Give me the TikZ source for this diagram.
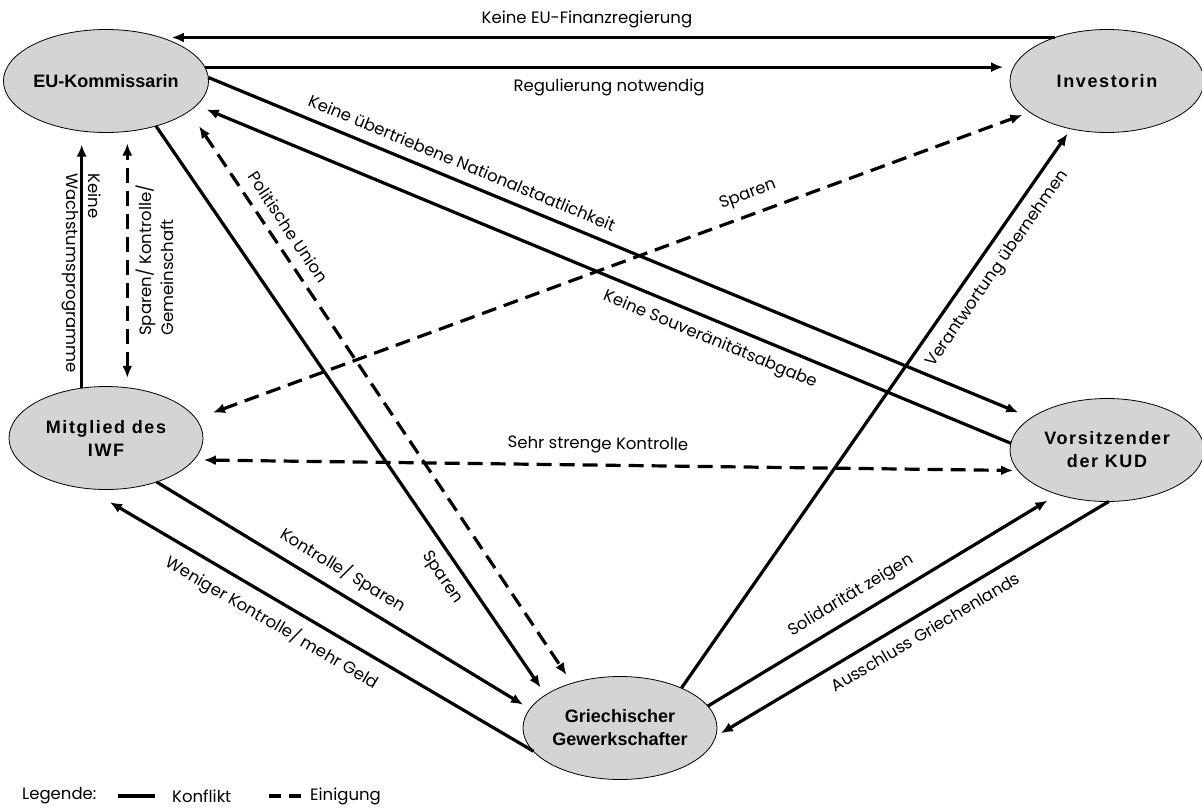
\documentclass[tikz,border=0pt]{standalone}
\usepackage{fontspec}
\setmainfont{Liberation Sans}
\newfontfamily\labelfont{Poppins}
\newfontfamily\actorfont[LetterSpace=9]{Liberation Sans}
\usepackage{tikz}
\usetikzlibrary{arrows.meta}
\usetikzlibrary{shapes.geometric}
\definecolor{actorgray}{RGB}{212,212,214}

\begin{document}
\begin{tikzpicture}[x = 1pt, y = -1pt, > = {Latex[length = 12pt, width = 10pt]}]
		\tikzset{vertex/.style={shape = ellipse, draw, line width = 0.8pt, fill = actorgray,
				minimum width = 194pt, minimum height = 103pt, inner sep = 0pt, outer sep = 0pt,
				align = center, font = \bfseries\fontsize{18}{23}\selectfont}}
		\tikzset{conflict/.style={->, line width = 3.2pt}}
		\tikzset{accord/.style={<->, line width = 3.2pt, dash pattern = on 15pt off 8pt}}
		\tikzset{lbl/.style={font = \labelfont\fontsize{16.5}{22}\selectfont, inner sep = 10pt}}
		\useasboundingbox (0, 0) rectangle (1202, 811);
		%vertices
		\node[vertex] (eu) at (106, 81) {EU-Kommissarin};
		\node[vertex] (inv) at (1107, 81) {\actorfont\bfseries Investorin};
		\node[vertex] (iwf) at (106, 438) {\actorfont\bfseries Mitglied des\\\actorfont\bfseries IWF};
		\node[vertex] (kud) at (1107, 450) {\actorfont\bfseries Vorsitzender\\\actorfont\bfseries der KUD};
		\node[vertex] (gew) at (620, 728) {Griechischer\\Gewerkschafter};
		%edges
		\draw[conflict] (inv.140) -- (eu.31 |- inv.140)
			node[lbl, pos = 0.53, above, inner sep = 8pt] {Keine EU-Finanzregierung};
		\draw[conflict, shorten > = 10pt] (eu.8) -- (inv.172 |- eu.8)
			node[lbl, midway, below] {Regulierung notwendig};
		\draw[conflict, shorten > = 14pt] (eu.2) -- (kud.157)
			node[lbl, sloped, pos = 0.3, above] {Keine übertriebene Nationalstaatlichkeit};
		\draw[conflict, shorten > = 11pt] (kud.176) -- (eu.345)
			node[lbl, sloped, pos = 0.36, below] {Keine Souveränitätsabgabe};
		\draw[conflict, shorten > = 9pt] (eu.318) -- (gew.156)
			node[lbl, sloped, pos = 0.775, below] {Sparen};
		\draw[accord, shorten < = 18pt, shorten > = 10pt] (eu.340) -- (gew.137)
			node[lbl, sloped, pos = 0.22, above] {Politische Union};
		\draw[conflict, shorten > = 12pt] (iwf.116) -- (iwf.116 |- eu.south)
			node[lbl, pos = 0.45, rotate = -90, align = left, inner sep = 0pt] {Keine\\Wachstumsprogramme};
		\draw[accord, shorten < = 10pt, shorten > = 11pt] (iwf.67) -- (iwf.67 |- eu.south)
			node[lbl, midway, rotate = 90, anchor = north, align = left, inner sep = 7pt] {Sparen/ Kontrolle/\\Gemeinschaft};
		\draw[accord, shorten < = 18pt, shorten > = 8pt] (iwf.12) -- (inv.202)
			node[lbl, sloped, pos = 0.67, above] {Sparen};
		\draw[accord, shorten < = 10pt, shorten > = 5pt] (iwf.346) -- (kud.193)
			node[lbl, sloped, pos = 0.49, above] {Sehr strenge Kontrolle};
		\draw[conflict, shorten > = 8pt] (iwf.319) -- (gew.168)
			node[lbl, sloped, pos = 0.47, above] {Kontrolle/ Sparen};
		\draw[conflict, shorten > = 27pt] (gew.195) -- (iwf.249)
			node[lbl, sloped, pos = 0.56, below] {Weniger Kontrolle/ mehr Geld};
		\draw[conflict, shorten > = 6pt] (gew.33) -- (inv.233)
			node[lbl, sloped, pos = 0.77, below] {Verantwortung übernehmen};
		\draw[conflict, shorten > = 12pt] (gew.14) -- (kud.222)
			node[lbl, sloped, pos = 0.44, above] {Solidarität zeigen};
		\draw[conflict, shorten > = 6pt] (kud.272) -- (gew.355)
			node[lbl, sloped, pos = 0.49, below] {Ausschluss Griechenlands};
		%legend
		\node[lbl, anchor = west, inner sep = 0pt] (legend) at (22, 796) {Legende:};
		\coordinate (k1) at (118, 796);
		\coordinate (k2) at (155, 796);
		\draw[line width = 3.2pt] (k1) -- (k2);
		\node[lbl, anchor = west, inner sep = 0pt] (konflikt) at (172, 796) {Konflikt};
		\coordinate (e1) at (269, 796);
		\coordinate (e2) at (302, 796);
		\draw[line width = 3.2pt, dash pattern = on 12pt off 8pt] (e1) -- (e2);
		\node[lbl, anchor = west, inner sep = 0pt] (einigung) at (310, 796) {Einigung};
\end{tikzpicture}
\end{document}
